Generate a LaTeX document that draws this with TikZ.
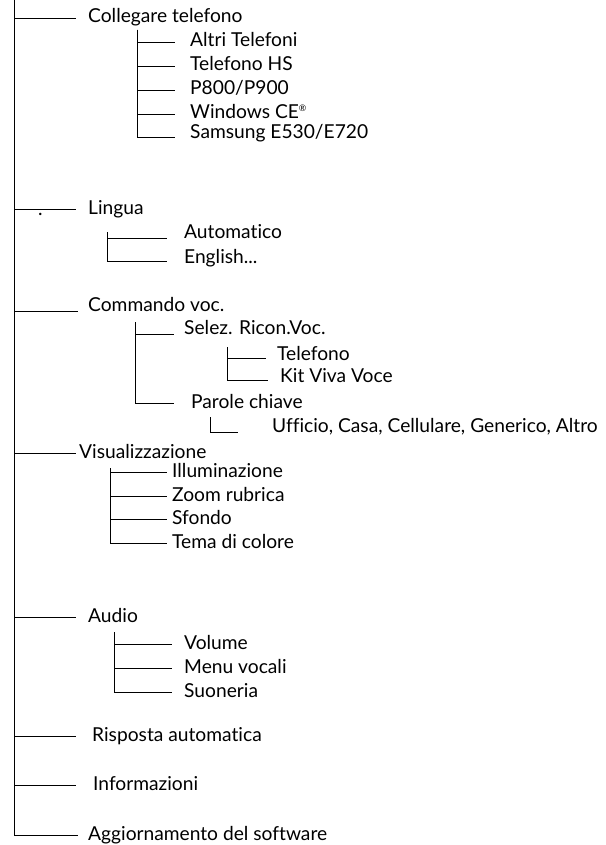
\documentclass[tikz,border=0pt]{standalone}
\usepackage{fontspec}
\setmainfont{Lato}[Ligatures=NoCommon]
\begin{document}
\begin{tikzpicture}[
  x=1pt, y=-1pt,
  item/.style={anchor=west, inner sep=0pt, text height=10pt, text depth=0pt, font=\fontsize{19.2}{22}\selectfont},
  low/.style={text depth=6pt},
  base/.style={text depth=10pt},
  branch/.style={line width=0.8pt},
]
  \useasboundingbox (0,0) rectangle (605,845);

  % trunks
  \coordinate (main) at (14,0);
  \coordinate (coltop) at (137,30);
  \coordinate (lintop) at (107,232);
  \coordinate (comtop) at (135,322);
  \coordinate (seltop) at (227,347);
  \coordinate (partop) at (210,417);
  \coordinate (vistop) at (110,468);
  \coordinate (audtop) at (114,632);

  % main menu
  \node[item] (col) at (88,18) {Collegare telefono};
  \node[item] (lin) at (88,209) {Lingua};
  \node[item, anchor=base west] (dot) at (38,215) {.};
  \node[item, base] (com) at (88,311) {Commando voc.};
  \node[item] (vis) at (79,453) {Visualizzazione};
  \node[item] (aud) at (88,617) {Audio};
  \node[item] (ris) at (92,736) {Risposta automatica};
  \node[item] (inf) at (93,785) {Informazioni};
  \node[item] (agg) at (88,835) {Aggiornamento del software};

  % Collegare telefono
  \node[item] (alt) at (190,42) {Altri Telefoni};
  \node[item] (ths) at (190,66) {Telefono HS};
  \node[item] (pda) at (190,90) {P800/P900};
  \node[item] (win) at (190,114) {Windows CE\textsuperscript{\fontsize{9}{9}\selectfont\textregistered}};
  \node[item, low] (sam) at (190,137) {Samsung E530/E720};

  % Lingua
  \node[item, base] (aut) at (184,238) {Automatico};
  \node[item, low] (eng) at (184,261) {English...};

  % Commando voc.
  \node[item, base] (sel) at (184,334) {Selez. Ricon.Voc.};
  \node[item, low] (tel) at (277,358) {Telefono};
  \node[item, low] (kit) at (280,380) {Kit Viva Voce};
  \node[item] (par) at (191,403) {Parole chiave};
  \node[item, base] (uff) at (272,432) {Ufficio, Casa, Cellulare, Generico, Altro};

  % Visualizzazione
  \node[item] (ill) at (172,472) {Illuminazione};
  \node[item] (zoo) at (172,496) {Zoom rubrica};
  \node[item] (sfo) at (172,519) {Sfondo};
  \node[item] (tem) at (172,543) {Tema di colore};

  % Audio
  \node[item] (vol) at (184,644) {Volume};
  \node[item] (men) at (184,668) {Menu vocali};
  \node[item] (suo) at (184,692) {Suoneria};

  \draw[branch] (main) |- ([xshift=-12pt]col.west);
  \draw[branch] (main) |- ([xshift=-12pt]lin.west);
  \draw[branch] (main) |- ([xshift=-10pt]com.west);
  \draw[branch] (main) |- ([xshift=-3pt]vis.west);
  \draw[branch] (main) |- ([xshift=-12pt]aud.west);
  \draw[branch] (main) |- ([xshift=-16pt]ris.west);
  \draw[branch] (main) |- ([xshift=-17pt]inf.west);
  \draw[branch] (main) |- ([xshift=-10pt]agg.west);

  \draw[branch] (coltop) |- ([xshift=-15pt]alt.west);
  \draw[branch] (coltop) |- ([xshift=-15pt]ths.west);
  \draw[branch] (coltop) |- ([xshift=-15pt]pda.west);
  \draw[branch] (coltop) |- ([xshift=-15pt]win.west);
  \draw[branch] (coltop) |- ([xshift=-15pt]sam.west);

  \draw[branch] (lintop) |- ([xshift=-17pt]aut.west);
  \draw[branch] (lintop) |- ([xshift=-17pt]eng.west);

  \draw[branch] (comtop) |- ([xshift=-10pt]sel.west);
  \draw[branch] (comtop) |- ([xshift=-17pt]par.west);
  \draw[branch] (seltop) |- ([xshift=-11pt]tel.west);
  \draw[branch] (seltop) |- ([xshift=-12pt]kit.west);
  \draw[branch] (partop) |- ([xshift=-34pt]uff.west);

  \draw[branch] (vistop) |- ([xshift=-5pt]ill.west);
  \draw[branch] (vistop) |- ([xshift=-5pt]zoo.west);
  \draw[branch] (vistop) |- ([xshift=-5pt]sfo.west);
  \draw[branch] (vistop) |- ([xshift=-5pt]tem.west);

  \draw[branch] (audtop) |- ([xshift=-12pt]vol.west);
  \draw[branch] (audtop) |- ([xshift=-12pt]men.west);
  \draw[branch] (audtop) |- ([xshift=-12pt]suo.west);
\end{tikzpicture}
\end{document}
